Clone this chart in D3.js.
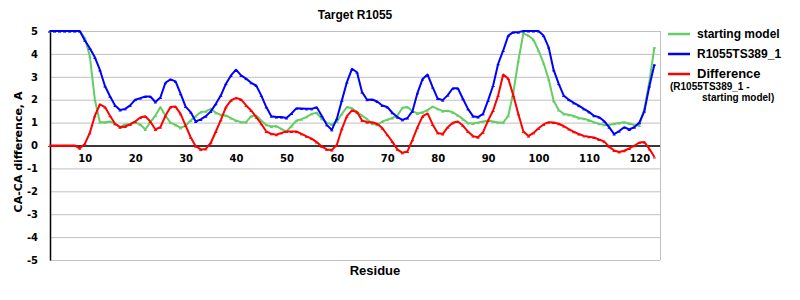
<!DOCTYPE html>
<html>
<head>
<meta charset="utf-8">
<script src="https://cdn.jsdelivr.net/npm/d3@7"></script>
<style>
  body { margin: 0; background: #fff; }
  svg { display: block; }
</style>
</head>
<body>
<div id="chart"></div>
<script>
const residues = d3.range(3, 124);
const xTicks = [10, 20, 30, 40, 50, 60, 70, 80, 90, 100, 110, 120];
const yTicks = [-5, -4, -3, -2, -1, 0, 1, 2, 3, 4, 5];

// residue 3 .. 123
const startingModel = [
  5, 5, 5, 5, 5, 5, 5, 4.7,
  3.9, 2.0, 1.02, 1.02, 1.05, 0.95, 0.8, 0.92, 0.95, 1.0,
  0.92, 0.7, 1.02, 1.3, 1.68, 1.3, 1.0, 0.9, 0.77, 0.87,
  1.09, 1.28, 1.46, 1.49, 1.6, 1.43, 1.34, 1.31, 1.2, 1.09,
  1.02, 1.02, 1.28, 1.31, 1.09, 0.9, 0.83, 0.85, 0.73, 0.61,
  0.85, 1.09, 1.15, 1.25, 1.38, 1.43, 1.17, 1.0, 0.92, 1.05,
  1.38, 1.68, 1.63, 1.46, 1.31, 1.15, 0.95, 0.9, 1.05, 1.13,
  1.2, 1.3, 1.65, 1.68, 1.5, 1.4, 1.45, 1.55, 1.7, 1.6,
  1.5, 1.52, 1.45, 1.32, 1.15, 0.98, 0.96, 1.0, 1.05, 1.09,
  1.05, 1.0, 1.0, 1.3, 2.3, 3.7, 4.9, 4.8, 4.62, 4.15,
  3.6, 2.9, 1.95, 1.55, 1.38, 1.34, 1.29, 1.2, 1.17, 1.1,
  1.02, 0.95, 0.9, 0.9, 0.95, 0.98, 1.02, 0.96, 0.9, 0.88,
  1.6, 2.8, 4.3
];

const ts389 = [
  5, 5, 5, 5, 5, 5, 5, 4.6,
  4.25, 3.85, 3.3, 2.6, 2.15, 1.75, 1.55, 1.6, 1.75, 2.0,
  2.07, 2.14, 2.14, 1.9, 2.1, 2.74, 2.89, 2.8, 2.26, 1.7,
  1.46, 1.05, 1.14, 1.28, 1.49, 1.82, 2.19, 2.7, 3.06, 3.31,
  3.06, 2.92, 2.74, 2.62, 2.19, 1.68, 1.28, 1.24, 1.24, 1.2,
  1.4, 1.63, 1.62, 1.6, 1.6, 1.67, 1.3, 0.9, 0.68, 1.17,
  1.97, 2.77, 3.35, 3.2, 2.33, 2.0, 2.01, 1.92, 1.75, 1.68,
  1.43, 1.24, 1.12, 1.2, 1.5, 2.3, 2.9, 3.1, 2.55, 2.05,
  1.98, 2.2, 2.5, 2.5, 2.04, 1.6, 1.28, 1.24, 1.38, 1.97,
  2.62, 3.57, 4.15, 4.8, 4.95, 4.95, 5, 5, 5, 5,
  4.8, 4.3, 3.3, 2.7, 2.18, 2.0, 1.86, 1.74, 1.6, 1.47,
  1.3, 1.24, 1.07, 0.8, 0.5, 0.63, 0.8, 0.7, 0.8, 1.0,
  1.5, 2.6, 3.55
];

const difference = [
  0, 0, 0, 0, 0, 0, -0.12, 0.07,
  0.55, 1.3, 1.8, 1.68, 1.3, 0.95, 0.8, 0.83, 0.92, 1.05,
  1.22, 1.28, 1.05, 0.7, 0.8, 1.3, 1.68, 1.7, 1.38, 0.87,
  0.36, -0.03, -0.17, -0.15, 0.12, 0.61, 1.12, 1.68, 1.97, 2.08,
  2.01, 1.75, 1.53, 1.24, 0.95, 0.61, 0.51, 0.47, 0.55, 0.61,
  0.61, 0.61, 0.51, 0.4, 0.3, 0.15, -0.04, -0.17, -0.2, 0.03,
  0.73, 1.28, 1.53, 1.46, 1.09, 1.02, 1.02, 0.95, 0.76, 0.47,
  0.17, -0.17, -0.32, -0.26, 0.25, 0.8, 1.27, 1.4, 0.92, 0.55,
  0.5, 0.8, 0.99, 1.05, 0.87, 0.61, 0.41, 0.36, 0.58, 1.09,
  1.53, 2.19, 3.1, 2.92, 2.19, 1.38, 0.61, 0.41, 0.55, 0.75,
  0.92, 1.02, 1.0, 0.95, 0.85, 0.72, 0.6, 0.5, 0.42, 0.38,
  0.35, 0.26, 0.18, -0.05, -0.22, -0.28, -0.23, -0.13, -0.01, 0.13,
  0.15, -0.15, -0.5
];

const width = 800;
const height = 300;
const plotLeft = 50, plotRight = 660, plotTop = 31, plotBottom = 260;

const svg = d3.select("#chart").append("svg")
    .attr("width", width)
    .attr("height", height);

const x = d3.scaleLinear().domain([3, 124]).range([49.5, 659.5]);
const y = d3.scaleLinear().domain([-5, 5]).range([plotBottom, plotTop]);

// gridlines
svg.append("g")
    .selectAll("line")
    .data(yTicks)
    .join("line")
    .attr("x1", plotLeft)
    .attr("x2", plotRight)
    .attr("y1", d => y(d) + 0.5)
    .attr("y2", d => y(d) + 0.5)
    .attr("stroke", "#c0c0c0")
    .attr("stroke-width", 1);

svg.append("line")
    .attr("x1", plotRight + 0.5).attr("x2", plotRight + 0.5)
    .attr("y1", plotTop).attr("y2", plotBottom)
    .attr("stroke", "#c0c0c0");

// y axis
const yAxis = svg.append("g")
    .attr("transform", `translate(${plotLeft},0)`)
    .call(d3.axisLeft(y).tickValues(yTicks).tickSize(0).tickPadding(12).tickFormat(d => String(d)));
yAxis.select(".domain").attr("stroke", "#000").attr("stroke-width", 1.5);
yAxis.selectAll("text")
    .style("font-family", "DejaVu Sans")
    .style("font-weight", "bold")
    .style("font-size", "10px")
    .attr("fill", "#000");

// x axis at y = 0
const xAxis = svg.append("g")
    .attr("transform", `translate(0,${y(0)})`)
    .call(d3.axisBottom(x).tickValues(xTicks).tickSize(0).tickPadding(9).tickFormat(d3.format("d")));
xAxis.select(".domain").attr("d", `M${plotLeft},0.5H${plotRight}`).attr("stroke", "#000").attr("stroke-width", 1.5);
xAxis.selectAll("text")
    .style("font-family", "DejaVu Sans")
    .style("font-weight", "bold")
    .style("font-size", "10px")
    .attr("fill", "#000");

const series = [
  { name: "starting model", values: startingModel, color: "#66cc66" },
  { name: "R1055TS389_1", values: ts389, color: "#0000ff" },
  { name: "Difference", values: difference, color: "#ff0000" }
];

const line = d3.line()
    .x((d, i) => x(residues[i]))
    .y(d => y(d));

series.forEach(s => {
  svg.append("path")
      .datum(s.values)
      .attr("fill", "none")
      .attr("stroke", s.color)
      .attr("stroke-width", 2)
      .attr("stroke-linejoin", "round")
      .attr("d", line);

  svg.append("g")
      .selectAll("line")
      .data(s.values)
      .join("line")
      .attr("x1", (d, i) => x(residues[i]) - 1.5)
      .attr("x2", (d, i) => x(residues[i]) + 1.5)
      .attr("y1", d => y(d) + 1)
      .attr("y2", d => y(d) + 1)
      .attr("stroke", s.color)
      .attr("stroke-width", 1);
});

// title
svg.append("text")
    .attr("x", 355)
    .attr("y", 19)
    .attr("text-anchor", "middle")
    .style("font-family", "Liberation Sans, Arial")
    .style("font-weight", "bold")
    .style("font-size", "12px")
    .text("Target R1055");

svg.append("text")
    .attr("x", 375)
    .attr("y", 275)
    .attr("text-anchor", "middle")
    .style("font-family", "Liberation Sans, Arial")
    .style("font-weight", "bold")
    .style("font-size", "13px")
    .text("Residue");

svg.append("text")
    .attr("transform", "translate(22,152) rotate(-90)")
    .attr("text-anchor", "middle")
    .style("font-family", "DejaVu Sans")
    .style("font-weight", "bold")
    .style("font-size", "11px")
    .text("CA-CA difference, A");

// legend
const legendY = [34, 54, 74];
const legend = svg.append("g");
series.forEach((s, i) => {
  legend.append("line")
      .attr("x1", 668).attr("x2", 690)
      .attr("y1", legendY[i]).attr("y2", legendY[i])
      .attr("stroke", s.color)
      .attr("stroke-width", 2.5);
  legend.append("text")
      .attr("x", 697)
      .attr("y", legendY[i] + 4)
      .style("font-family", "Liberation Sans, Arial")
      .style("font-weight", "bold")
      .style("font-size", i === 2 ? "13px" : "12px")
      .text(s.name);
});
legend.append("text")
    .attr("x", 670).attr("y", 90)
    .style("font-family", "Liberation Sans, Arial")
    .style("font-weight", "bold")
    .style("font-size", "10px")
    .text("(R1055TS389_1 -");
legend.append("text")
    .attr("x", 702).attr("y", 101)
    .style("font-family", "Liberation Sans, Arial")
    .style("font-weight", "bold")
    .style("font-size", "10px")
    .text("starting model)");
</script>
</body>
</html>
